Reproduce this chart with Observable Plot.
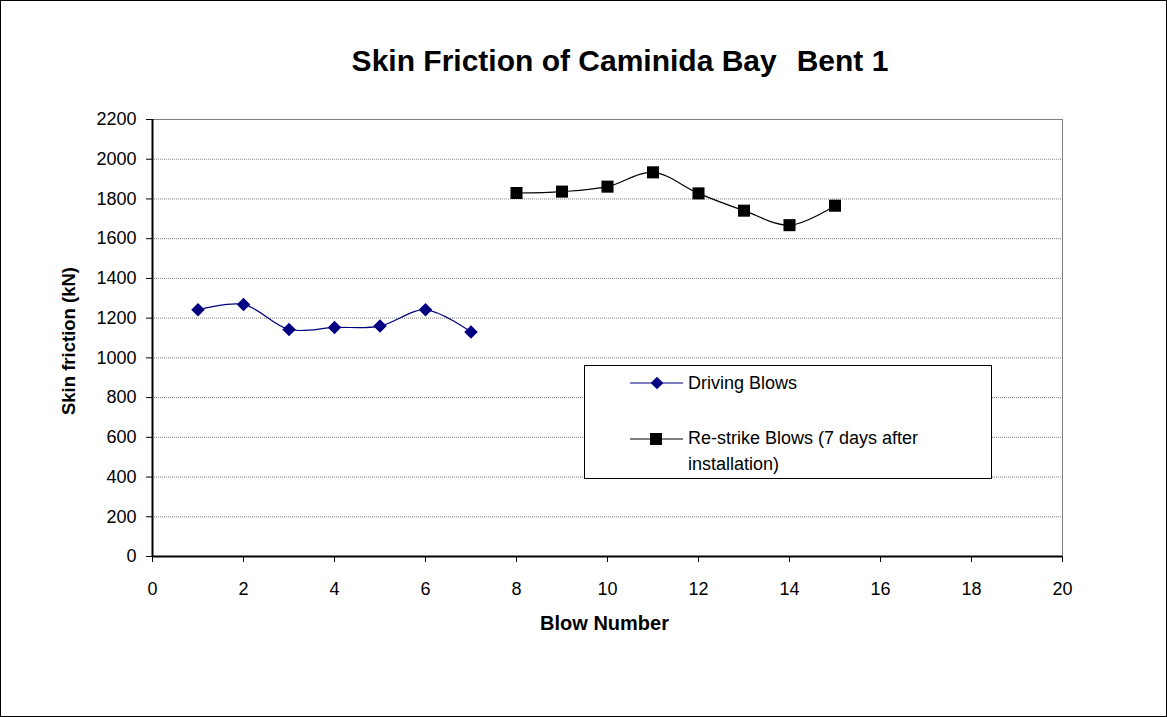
<!DOCTYPE html>
<html>
<head>
<meta charset="utf-8">
<script src="https://cdn.jsdelivr.net/npm/d3@7"></script>
<script src="https://cdn.jsdelivr.net/npm/@observablehq/plot@0.6"></script>
<style>
  html, body { margin: 0; padding: 0; background: #fff; }
  #fig { position: relative; width: 1167px; height: 717px; box-sizing: border-box; border: 1px solid #000; font-family: "Liberation Sans", Arial, sans-serif; overflow: hidden; }
  #chart { position: absolute; left: 0; top: 0; }
  .title { position: absolute; top: 45px; left: 619px; transform: translateX(-50%); font-weight: bold; font-size: 30px; line-height: 1; white-space: nowrap; }
  .ylab { position: absolute; left: 68px; top: 340px; transform: translate(-50%, -50%) rotate(-90deg); font-weight: bold; font-size: 18.5px; white-space: nowrap; }
  .xlab { position: absolute; left: 0; width: 1207px; text-align: center; top: 611px; font-weight: bold; font-size: 20px; }
  .legend { position: absolute; left: 583px; top: 364px; width: 408px; height: 114px; box-sizing: border-box; border: 1px solid #000; background: #fff; font-size: 18px; line-height: 26px; }
  .legend .item { position: absolute; left: 45px; display: flex; align-items: flex-start; }
  .legend svg { margin-right: 5px; flex: none; }
</style>
</head>
<body>
<div id="fig">
  <div id="chart"></div>
  <div class="title">Skin Friction of Caminida Bay<span style="margin-left:20px">Bent 1</span></div>
  <div class="ylab">Skin friction (kN)</div>
  <div class="xlab">Blow Number</div>
  <div class="legend">
    <div class="item" style="top:4px">
      <svg width="53" height="18" style="margin-top:4px"><line x1="0" y1="9" x2="53" y2="9" stroke="#000080" stroke-width="1.2"/><rect x="22.5" y="4.5" width="9" height="9" fill="#000080" transform="rotate(45 27 9)"/></svg>
      <span>Driving Blows</span>
    </div>
    <div class="item" style="top:59px">
      <svg width="53" height="18" style="margin-top:5px"><line x1="0" y1="9" x2="53" y2="9" stroke="#000" stroke-width="1.2"/><rect x="20" y="3" width="12" height="12" fill="#000"/></svg>
      <span>Re-strike Blows (7 days after<br>installation)</span>
    </div>
  </div>
</div>
<script>
const drivingBlow = [1, 2, 3, 4, 5, 6, 7];
const drivingFriction = [1242, 1269, 1143, 1153, 1160, 1242, 1130];
const restrikeBlow = [8, 9, 10, 11, 12, 13, 14, 15];
const restrikeFriction = [1830, 1837, 1862, 1934, 1828, 1741, 1668, 1766];
const xTicks = [0, 2, 4, 6, 8, 10, 12, 14, 16, 18, 20];
const yTicks = [0, 200, 400, 600, 800, 1000, 1200, 1400, 1600, 1800, 2000, 2200];

const driving = drivingBlow.map((b, i) => ({blow: b, friction: drivingFriction[i]}));
const restrike = restrikeBlow.map((b, i) => ({blow: b, friction: restrikeFriction[i]}));

const plot = Plot.plot({
  width: 1165,
  height: 715,
  marginLeft: 151,
  marginRight: 104,
  marginTop: 118,
  marginBottom: 160,
  style: {fontFamily: "Liberation Sans, Arial, sans-serif", fontSize: "18px", color: "#000", background: "transparent"},
  x: {domain: [0, 20]},
  y: {domain: [0, 2200]},
  marks: [
    Plot.gridY(yTicks.filter(d => d > 0), {stroke: "#808080", strokeOpacity: 1, strokeDasharray: "1,1"}),
    Plot.frame({stroke: "#808080"}),
    Plot.ruleX([0], {stroke: "#000", strokeWidth: 2}),
    Plot.ruleY([0], {stroke: "#000", strokeWidth: 2}),
    Plot.axisX({ticks: xTicks, tickSize: 6, tickPadding: 20, label: null, fontSize: 18, tickFormat: d => String(d)}),
    Plot.axisY({ticks: yTicks, tickSize: 6, tickPadding: 10, label: null, fontSize: 18, tickFormat: d => String(d)}),
    Plot.line(driving, {x: "blow", y: "friction", stroke: "#000080", strokeWidth: 1.2, curve: "catmull-rom"}),
    Plot.dot(driving, {x: "blow", y: "friction", symbol: "square", r: 5.4, rotate: 45, fill: "#000080", stroke: "none"}),
    Plot.line(restrike, {x: "blow", y: "friction", stroke: "#000", strokeWidth: 1.2, curve: "catmull-rom"}),
    Plot.dot(restrike, {x: "blow", y: "friction", symbol: "square", r: 6.8, fill: "#000", stroke: "none"})
  ]
});
document.getElementById("chart").appendChild(plot);
</script>
</body>
</html>
